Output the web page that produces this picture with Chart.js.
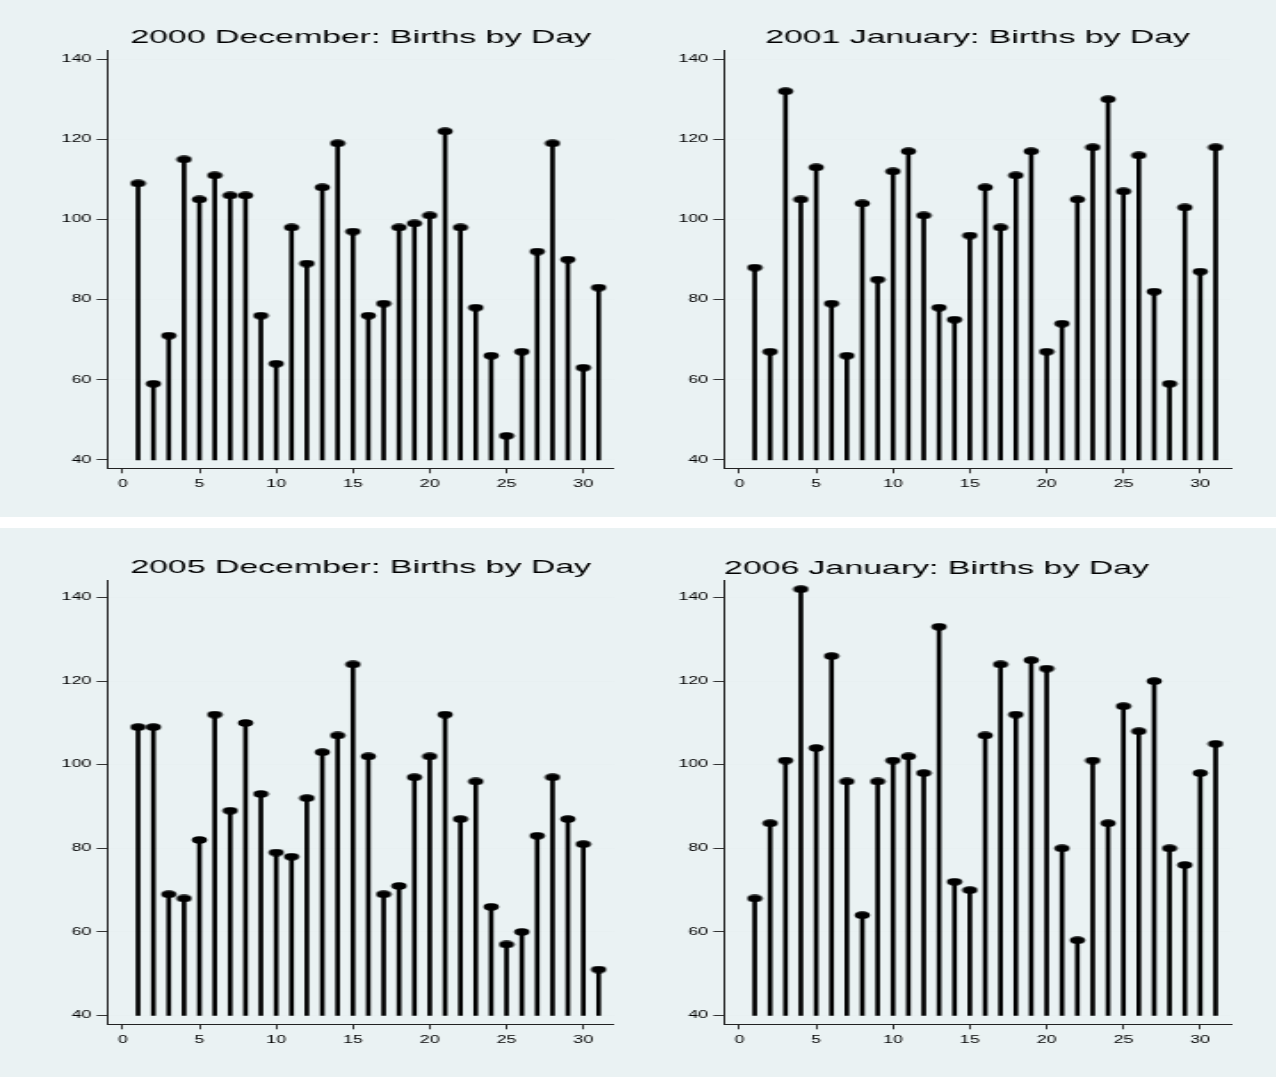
<!DOCTYPE html>
<html>
<head>
<meta charset="utf-8">
<script src="https://cdn.jsdelivr.net/npm/chart.js@4.4.0/dist/chart.umd.min.js"></script>
<style>
  body { margin: 0; background: #fff; }
  #wrap { position: relative; width: 1276px; height: 1077px; background: #fff; overflow: hidden; }
  .panel { position: absolute; background: #eaf2f3; overflow: hidden; }
  .inner { position: absolute; left: 0; top: 0; transform-origin: 0 0; }
</style>
</head>
<body>
<div id="wrap"></div>
<script>
// day of month, births per day
const days = [1,2,3,4,5,6,7,8,9,10,11,12,13,14,15,16,17,18,19,20,21,22,23,24,25,26,27,28,29,30,31];
const dec2000 = [109,59,71,115,105,111,106,106,76,64,98,89,108,119,97,76,79,98,99,101,122,98,78,66,46,67,92,119,90,63,83];
const jan2001 = [88,67,132,105,113,79,66,104,85,112,117,101,78,75,96,108,98,111,117,67,74,105,118,130,107,116,82,59,103,87,118];
const dec2005 = [109,109,69,68,82,112,89,110,93,79,78,92,103,107,124,102,69,71,97,102,112,87,96,66,57,60,83,97,87,81,51];
const jan2006 = [68,86,101,142,104,126,96,64,96,101,102,98,133,72,70,107,124,112,125,123,80,58,101,86,114,108,120,80,76,98,105];

const titles = ['2000 December: Births by Day', '2001 January: Births by Day',
                '2005 December: Births by Day', '2006 January: Births by Day'];
const xTicks = [0, 5, 10, 15, 20, 25, 30];
const yTicks = [40, 60, 80, 100, 120, 140];
const stemBase = 40;

// the original graph is stretched sideways, so every panel is drawn narrow and scaled in x
const STRETCH = 1.78;
const FONT = '"Liberation Sans", Arial, Helvetica, sans-serif';
const TITLE_SIZE = 19;
const Y_W = 26;
const X_H = 25;

const panels = [
  { values: dec2000, title: titles[0], left: 0,   top: 0,   w: 638, h: 517, area: [107.3, 614, 50, 468.3],  titleY: 37.3, yMax: 142.3, align: 'center' },
  { values: jan2001, title: titles[1], left: 638, top: 0,   w: 638, h: 517, area: [724, 1231, 50, 468.3],   titleY: 37.3, yMax: 142.3, align: 'center' },
  { values: dec2005, title: titles[2], left: 0,   top: 528, w: 638, h: 549, area: [107.3, 614, 580, 1024.3], titleY: 567.3, yMax: 144.2, align: 'center' },
  { values: jan2006, title: titles[3], left: 638, top: 528, w: 638, h: 549, area: [724, 1231, 580, 1024.3],  titleY: 569, yMax: 144.2, align: 'start' },
];

// marker: small filled ellipse
const dot = document.createElement('canvas');
dot.width = 10; dot.height = 8;
{
  const c = dot.getContext('2d');
  c.fillStyle = '#000';
  c.beginPath();
  c.ellipse(5, 4, 4.3, 3.7, 0, 0, Math.PI * 2);
  c.fill();
}

const wrap = document.getElementById('wrap');

panels.forEach(p => {
  const pw = p.w / STRETCH;
  const box = document.createElement('div');
  box.className = 'panel';
  Object.assign(box.style, { left: p.left + 'px', top: p.top + 'px', width: p.w + 'px', height: p.h + 'px' });
  const inner = document.createElement('div');
  inner.className = 'inner';
  Object.assign(inner.style, { width: pw + 'px', height: p.h + 'px', transform: `scaleX(${STRETCH})` });
  const canvas = document.createElement('canvas');
  inner.appendChild(canvas);
  box.appendChild(inner);
  wrap.appendChild(box);

  const aL = (p.area[0] - p.left) / STRETCH;
  const aR = (p.area[1] - p.left) / STRETCH;
  const aT = p.area[2] - p.top;
  const aB = p.area[3] - p.top;
  const lh = TITLE_SIZE * 1.2;
  const tc = p.titleY - p.top;

  new Chart(canvas, {
    type: 'bar',
    data: {
      datasets: [
        {
          type: 'bar',
          data: days.map((d, i) => ({ x: d, y: [stemBase, p.values[i]] })),
          backgroundColor: '#000',
          barThickness: 2,
          order: 2
        },
        {
          type: 'scatter',
          data: days.map((d, i) => ({ x: d, y: p.values[i] })),
          pointStyle: dot,
          pointRadius: 4,
          pointHoverRadius: 4,
          order: 1
        }
      ]
    },
    options: {
      responsive: true,
      maintainAspectRatio: false,
      animation: false,
      events: [],
      layout: { padding: { left: aL - Y_W, right: pw - aR, top: 0, bottom: p.h - aB - X_H } },
      plugins: {
        legend: { display: false },
        tooltip: { enabled: false },
        title: {
          display: true,
          text: p.title,
          align: p.align,
          fullSize: false,
          color: '#000',
          font: { family: FONT, size: TITLE_SIZE, weight: 'normal', lineHeight: 1.2 },
          padding: { top: tc - lh / 2, bottom: aT - tc - lh / 2 }
        }
      },
      scales: {
        x: {
          type: 'linear',
          min: -1,
          max: 32,
          offset: false,
          afterBuildTicks: a => { a.ticks = xTicks.map(v => ({ value: v })); },
          afterFit: a => { a.height = X_H; },
          grid: { drawOnChartArea: false, offset: false, tickLength: 5, tickColor: '#333' },
          border: { color: '#222', width: 1 },
          ticks: { font: { family: FONT, size: 10 }, color: '#000', padding: 5, maxRotation: 0 }
        },
        y: {
          min: 37.9,
          max: p.yMax,
          afterBuildTicks: a => { a.ticks = yTicks.map(v => ({ value: v })); },
          afterFit: a => { a.width = Y_W; },
          grid: { color: '#e8f0f1', tickLength: 6, tickColor: '#333' },
          border: { color: '#222', width: 1 },
          ticks: { font: { family: FONT, size: 10 }, color: '#000', padding: 3 }
        }
      }
    }
  });
});
</script>
</body>
</html>
